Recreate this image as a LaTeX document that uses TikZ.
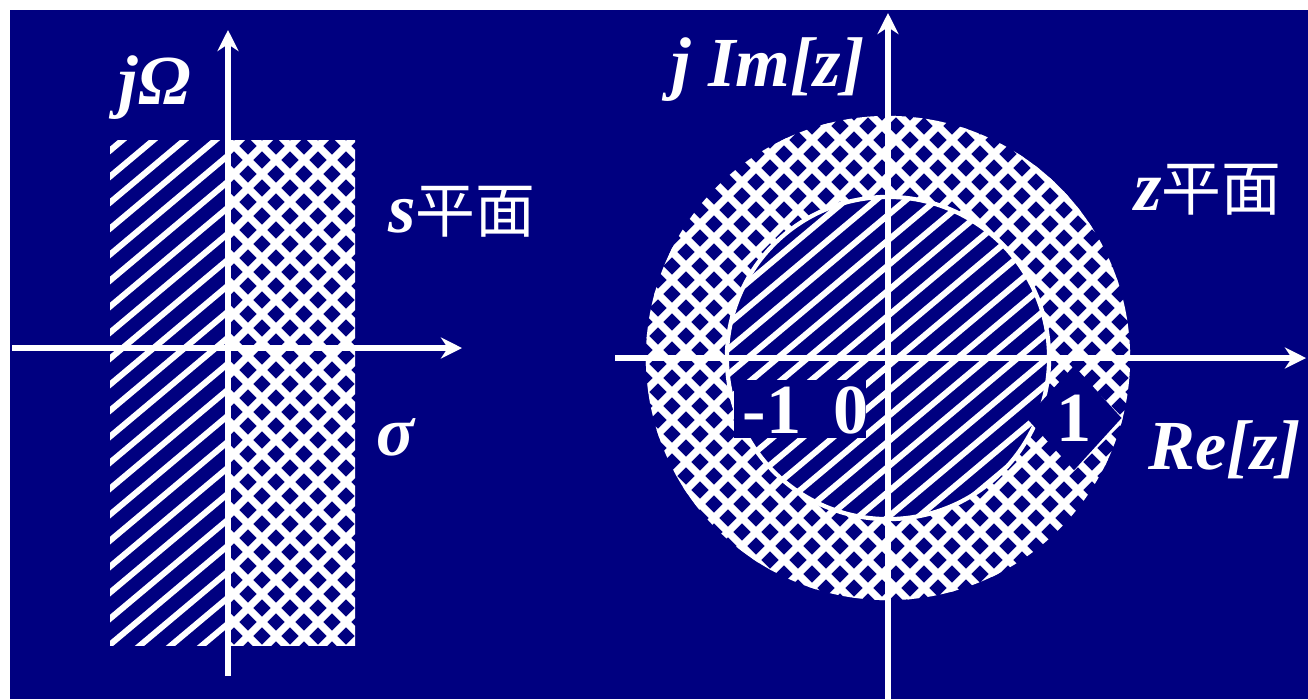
\documentclass[tikz,border=0pt]{standalone}
\usepackage{fontspec}
\setmainfont{Liberation Serif}
\newfontfamily\cjk{Noto Sans CJK SC}
\usetikzlibrary{arrows.meta,shapes.geometric}
\definecolor{navybg}{RGB}{0,0,128}
\tikzset{
  axis/.style={white, line width=1.8pt, -{Stealth[length=6pt,width=6pt]}},
  hatchline/.style={white, line width=1.7pt},
  gridline/.style={white, line width=2.1pt},
  lbl/.style={text=white, inner sep=1pt, font=\fontsize{20}{22}\selectfont\bfseries\itshape},
  num/.style={text=white, inner sep=1pt, font=\fontsize{20}{22}\selectfont\bfseries},
}
\newcommand{\pingmian}{{\cjk\mdseries\upshape\fontsize{17}{20}\selectfont 平面}}
\begin{document}
\begin{tikzpicture}[x=0.01cm, y=-0.01cm]
    \useasboundingbox (0,0) rectangle (1308,699);
    \fill[navybg] (10,10) rectangle (1308,699);

    % s plane
    \coordinate (SO) at (228,348);
    \coordinate (SW) at (12,348);
    \coordinate (SE) at (462,348);
    \coordinate (SS) at (228,676);
    \coordinate (SN) at (228,30);

    \begin{scope}
        \clip (110,140) rectangle (228,645);
        \foreach \x in {-700,-669,...,260}
            \draw[hatchline] (\x,700) -- ++(900,-755);
    \end{scope}
    \begin{scope}
        \clip (228,140) rectangle (355,645);
        \foreach \x in {-600,-572,...,400}
            \draw[gridline] (\x,700) -- ++(700,-700);
        \foreach \x in {200,228,...,1100}
            \draw[gridline] (\x,700) -- ++(-700,-700);
    \end{scope}

    % z plane
    \coordinate (ZO) at (888,358);
    \coordinate (ZW) at (615,358);
    \coordinate (ZE) at (1306,358);
    \coordinate (ZS) at (888,699);
    \coordinate (ZN) at (888,13);

    \begin{scope}[even odd rule]
        \clip (ZO) circle[radius=2.42cm] (ZO) circle[radius=1.61cm];
        \foreach \x in {0,28,...,1120}
            \draw[gridline] (\x,700) -- ++(700,-700);
        \foreach \x in {700,728,...,1760}
            \draw[gridline] (\x,700) -- ++(-700,-700);
    \end{scope}
    \begin{scope}
        \clip (ZO) circle[radius=1.61cm];
        \foreach \x in {100,130,...,880}
            \draw[hatchline] (\x,700) -- ++(900,-755);
    \end{scope}
    \draw[white, line width=1.2pt] (ZO) circle[radius=1.61cm];

    \fill[navybg] (734,380) rectangle (866,438);
    \node[num] (mone) at (772,410) {-1};
    \node[num] (zero) at (851,410) {0};
    \node[num, diamond, fill=navybg, minimum width=0.7cm, minimum height=1.05cm] (one) at (1074,418) {1};

    \draw[axis] (SW) -- (SE);
    \draw[axis] (SS) -- (SN);
    \draw[axis] (ZW) -- (ZE);
    \draw[axis] (ZS) -- (ZN);

    \node[lbl] (jomega) at (155,88) {jΩ};
    \node[lbl] (splane) at (462,212) {s\pingmian};
    \node[lbl] (sigma) at (395,437) {σ};
    \node[lbl] (jim) at (768,70) {j Im[z]};
    \node[lbl] (zplane) at (1208,190) {z\pingmian};
    \node[lbl] (rez) at (1225,450) {Re[z]};
\end{tikzpicture}
\end{document}
